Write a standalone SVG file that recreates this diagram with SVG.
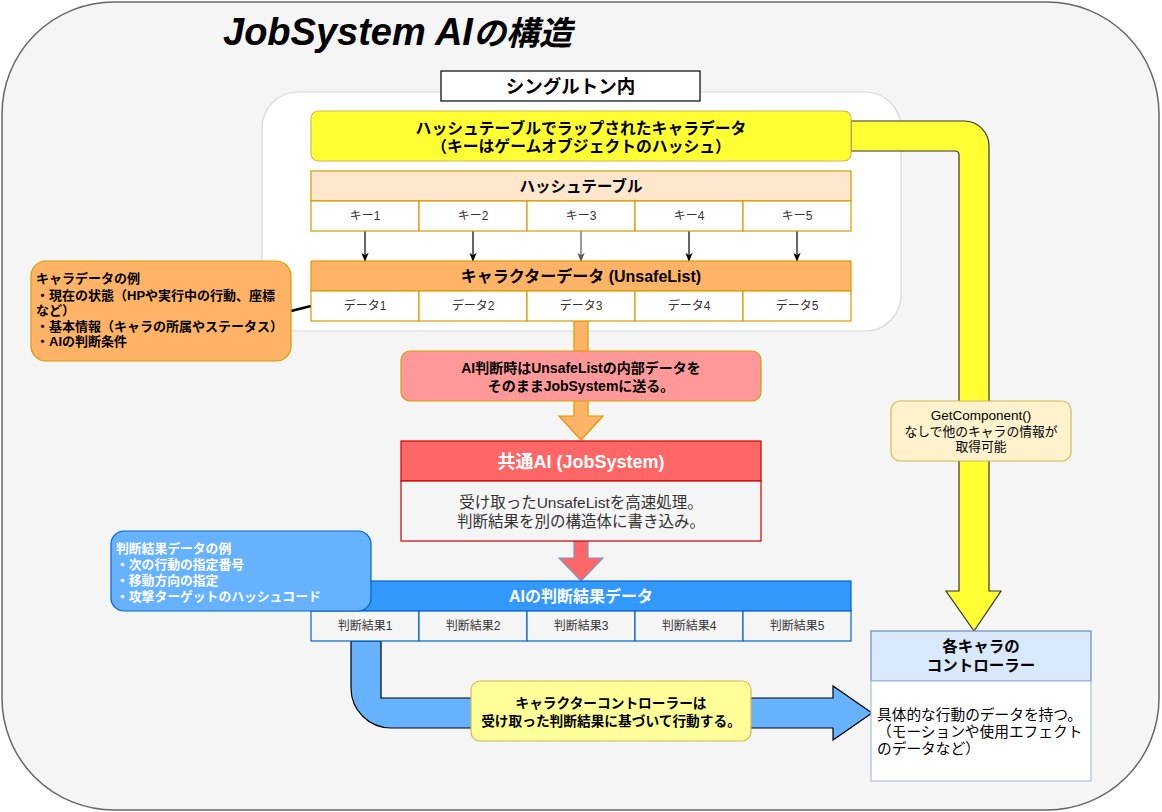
<svg xmlns="http://www.w3.org/2000/svg" width="1162" height="812" viewBox="0 0 1162 812">
<defs>
<style>
text{font-family:"Liberation Sans","Noto Sans CJK JP",sans-serif;}
.b{font-weight:bold;}
.c{text-anchor:middle;}
.cell{font-size:12px;fill:#333;text-anchor:middle;}
.ocell{fill:#fff;stroke:#d79b00;stroke-width:1.2;}
.bcell{fill:#f5f5f5;stroke:#0066cc;stroke-width:1.2;}
.thin{stroke:#000;stroke-width:1.2;fill:none;marker-end:url(#ah);}
</style>
<marker id="ah" viewBox="0 0 10 10" refX="9" refY="5" markerWidth="9" markerHeight="9" markerUnits="userSpaceOnUse" orient="auto">
<path d="M0,1 L10,5 L0,9 L2.5,5 Z" fill="context-stroke"/>
</marker>
</defs>

<g id="background">
<rect x="2" y="2" width="1157" height="808" rx="112" ry="112" fill="#f5f5f5" stroke="#666" stroke-width="1.5"/>
<text x="223" y="45" class="b" font-style="italic" font-size="38" fill="#000">JobSystem AI<tspan font-size="33">の構造</tspan></text>
</g>

<g id="singleton">
<rect x="262" y="92" width="639" height="239" rx="36" ry="36" fill="#fff" stroke="#d9d9d9" stroke-width="1.2"/>
<rect x="441" y="71" width="259" height="30" fill="#fff" stroke="#000" stroke-width="1.2"/>
<text x="570.5" y="92.5" class="b c" font-size="18.5">シングルトン内</text>
</g>

<g id="connectors">
<line x1="365" y1="231" x2="365" y2="261" class="thin"/>
<line x1="473" y1="231" x2="473" y2="261" class="thin"/>
<line x1="581" y1="231" x2="581" y2="261" class="thin" style="stroke:#555"/>
<line x1="689" y1="231" x2="689" y2="261" class="thin"/>
<line x1="797" y1="231" x2="797" y2="261" class="thin"/>
<line x1="291" y1="311" x2="311" y2="306" stroke="#000" stroke-width="2.5"/>
<path d="M574,321 H588 V416 H603 L581,440 L559,416 H574 Z" fill="#ffb366" stroke="#d79b00" stroke-width="1.2"/>
<path d="M574,541 H588 V558 H603 L581,581 L559,558 H574 Z" fill="#ff6666" stroke="#7f97c4" stroke-width="1.2"/>
<path d="M851,121 H964 A25,25 0 0 1 989,146 V591 H1001 L974,631 L946,591 H959 V155 Q959,151 955,151 H851 Z" fill="#ffff33" stroke="#333" stroke-width="1.2"/>
<path d="M351,641 H381 V698 H833 V686 L872,713 L833,740 V728 H391 A40,40 0 0 1 351,688 Z" fill="#66b2ff" stroke="#000" stroke-width="1.2"/>
</g>

<g id="wrapped-data">
<rect x="311" y="111" width="540" height="50" rx="7" ry="7" fill="#ffff33" stroke="#d6b656" stroke-width="1.2"/>
<text x="581" y="133.5" class="b c" font-size="15.8">ハッシュテーブルでラップされたキャラデータ</text>
<text x="581" y="151.5" class="b c" font-size="15.8">（キーはゲームオブジェクトのハッシュ）</text>
</g>

<g id="hash-table">
<rect x="311" y="171" width="540" height="30" fill="#ffe6cc" stroke="#d79b00" stroke-width="1.2"/>
<text x="581" y="192" class="b c" font-size="15.5">ハッシュテーブル</text>
<rect x="311" y="201" width="108" height="30" class="ocell"/>
<rect x="419" y="201" width="108" height="30" class="ocell"/>
<rect x="527" y="201" width="108" height="30" class="ocell"/>
<rect x="635" y="201" width="108" height="30" class="ocell"/>
<rect x="743" y="201" width="108" height="30" class="ocell"/>
<text x="365" y="220" class="cell">キー1</text>
<text x="473" y="220" class="cell">キー2</text>
<text x="581" y="220" class="cell">キー3</text>
<text x="689" y="220" class="cell">キー4</text>
<text x="797" y="220" class="cell">キー5</text>
</g>

<g id="chara-data">
<rect x="311" y="261" width="540" height="30" fill="#ffb366" stroke="#d79b00" stroke-width="1.2"/>
<text x="581" y="282" class="b c" font-size="16">キャラクターデータ (UnsafeList)</text>
<rect x="311" y="291" width="108" height="30" class="ocell"/>
<rect x="419" y="291" width="108" height="30" class="ocell"/>
<rect x="527" y="291" width="108" height="30" class="ocell"/>
<rect x="635" y="291" width="108" height="30" class="ocell"/>
<rect x="743" y="291" width="108" height="30" class="ocell"/>
<text x="365" y="310" class="cell">データ1</text>
<text x="473" y="310" class="cell">データ2</text>
<text x="581" y="310" class="cell">データ3</text>
<text x="689" y="310" class="cell">データ4</text>
<text x="797" y="310" class="cell">データ5</text>
</g>

<g id="chara-example">
<rect x="31" y="261" width="260" height="100" rx="15" ry="15" fill="#ffb366" stroke="#d79b00" stroke-width="1.2"/>
<text class="b" font-size="13" fill="#000">
<tspan x="36" y="283">キャラデータの例</tspan>
<tspan x="36" y="300">・現在の状態（HPや実行中の行動、座標</tspan>
<tspan x="36" y="315">など）</tspan>
<tspan x="36" y="331">・基本情報（キャラの所属やステータス）</tspan>
<tspan x="36" y="346">・AIの判断条件</tspan>
</text>
</g>

<g id="send-note">
<rect x="401" y="351" width="360" height="50" rx="9" ry="9" fill="#ff9999" stroke="#d79b00" stroke-width="1.2"/>
<text x="581" y="373" class="b c" font-size="14">AI判断時はUnsafeListの内部データを</text>
<text x="581" y="391" class="b c" font-size="14">そのままJobSystemに送る。</text>
</g>

<g id="common-ai">
<rect x="401" y="441" width="360" height="40" fill="#ff6666" stroke="#cc0000" stroke-width="1.2"/>
<text x="581" y="467.5" class="b c" font-size="18" fill="#fff">共通AI (JobSystem)</text>
<rect x="401" y="481" width="360" height="60" fill="#f5f5f5" stroke="#cc0000" stroke-width="1.2"/>
<text x="581" y="508" class="c" font-size="15.5" fill="#333">受け取ったUnsafeListを高速処理。</text>
<text x="581" y="527" class="c" font-size="15.5" fill="#333">判断結果を別の構造体に書き込み。</text>
</g>

<g id="result-data">
<rect x="311" y="581" width="540" height="30" fill="#3399ff" stroke="#0066cc" stroke-width="1.2"/>
<text x="581" y="602" class="b c" font-size="16" fill="#fff">AIの判断結果データ</text>
<rect x="311" y="611" width="108" height="30" class="bcell"/>
<rect x="419" y="611" width="108" height="30" class="bcell"/>
<rect x="527" y="611" width="108" height="30" class="bcell"/>
<rect x="635" y="611" width="108" height="30" class="bcell"/>
<rect x="743" y="611" width="108" height="30" class="bcell"/>
<text x="365" y="630" class="cell">判断結果1</text>
<text x="473" y="630" class="cell">判断結果2</text>
<text x="581" y="630" class="cell">判断結果3</text>
<text x="689" y="630" class="cell">判断結果4</text>
<text x="797" y="630" class="cell">判断結果5</text>
</g>

<g id="result-example">
<rect x="111" y="531" width="260" height="80" rx="13" ry="13" fill="#66b2ff" stroke="#0066cc" stroke-width="1.2"/>
<text class="b" font-size="12.8" fill="#fff">
<tspan x="116" y="553">判断結果データの例</tspan>
<tspan x="116" y="569">・次の行動の指定番号</tspan>
<tspan x="116" y="585">・移動方向の指定</tspan>
<tspan x="116" y="601">・攻撃ターゲットのハッシュコード</tspan>
</text>
</g>

<g id="controller-note">
<rect x="471" y="681" width="280" height="60" rx="9" ry="9" fill="#ffff99" stroke="#d6b656" stroke-width="1.2"/>
<text x="611" y="708" class="b c" font-size="13.7">キャラクターコントローラーは</text>
<text x="611" y="726" class="b c" font-size="13.7">受け取った判断結果に基づいて行動する。</text>
</g>

<g id="getcomponent-note">
<rect x="891" y="401" width="180" height="60" rx="9" ry="9" fill="#fff2cc" stroke="#d6b656" stroke-width="1.2"/>
<text x="981" y="420" class="c" font-size="13.5" fill="#000">GetComponent()</text>
<text x="981" y="436" class="c" font-size="12.8" fill="#000">なしで他のキャラの情報が</text>
<text x="981" y="451" class="c" font-size="12.8" fill="#000">取得可能</text>
</g>

<g id="controller">
<rect x="871" y="631" width="220" height="50" fill="#dae8fc" stroke="#6c8ebf" stroke-width="1.2"/>
<text x="981" y="652" class="b c" font-size="15.5">各キャラの</text>
<text x="981" y="671" class="b c" font-size="15.5">コントローラー</text>
<rect x="871" y="681" width="220" height="100" fill="#fff" stroke="#a9bfe0" stroke-width="1.2"/>
<text font-size="14.7" fill="#000">
<tspan x="877" y="720">具体的な行動のデータを持つ。</tspan>
<tspan x="877" y="737">（モーションや使用エフェクト</tspan>
<tspan x="877" y="754">のデータなど）</tspan>
</text>
</g>
</svg>
